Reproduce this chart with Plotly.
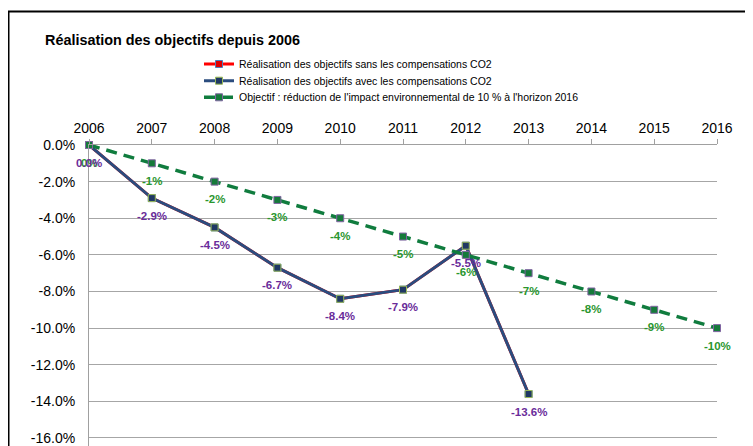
import plotly.graph_objects as go

years = [2006, 2007, 2008, 2009, 2010, 2011, 2012, 2013, 2014, 2015, 2016]
sans_comp = [0.0, -2.9, -4.5, -6.7, -8.4, -7.9, -5.5, -13.6]
avec_comp = [0.0, -2.9, -4.5, -6.7, -8.4, -7.9, -5.5, -13.6]
objectif = [0, -1, -2, -3, -4, -5, -6, -7, -8, -9, -10]
y_ticks = [0, -2, -4, -6, -8, -10, -12, -14, -16]
y_tick_labels = ["0.0%", "-2.0%", "-4.0%", "-6.0%", "-8.0%", "-10.0%", "-12.0%", "-14.0%", "-16.0%"]

names = [
    "Réalisation des objectifs sans les compensations CO2",
    "Réalisation des objectifs avec les compensations CO2",
    "Objectif : réduction de l'impact environnemental de 10 % à l'horizon 2016",
]

FONT = "Liberation Sans, Arial, sans-serif"
W, H = 753, 446
ML, MR, MT, MB = 81, 44, 137, 0
PH = H - MT - MB


def py(fig_y):
    return (H - MB - fig_y) / PH


fig = go.Figure()

fig.add_trace(go.Scatter(
    x=years[:len(sans_comp)], y=sans_comp, name=names[0], mode="lines+markers", legend="legend",
    line=dict(color="#FF0000", width=3),
    marker=dict(symbol="square", size=7, color="#E00000", line=dict(color="#4F81BD", width=1)),
    cliponaxis=False, hoverinfo="skip"))
fig.add_trace(go.Scatter(
    x=years[:len(avec_comp)], y=avec_comp, name=names[1], mode="lines+markers", legend="legend2",
    line=dict(color="#2B4C7E", width=3),
    marker=dict(symbol="square", size=7, color="#1F3864", line=dict(color="#9BBB59", width=1)),
    cliponaxis=False, hoverinfo="skip"))
fig.add_trace(go.Scatter(
    x=years, y=objectif, name=names[2], mode="lines+markers", legend="legend3",
    line=dict(color="#107C3E", width=3.5, dash="11px,7px"),
    marker=dict(symbol="square", size=7, color="#157A3A", line=dict(color="#8064A2", width=1)),
    cliponaxis=False, hoverinfo="skip"))

annotations = []
for x, v in zip(years, objectif):
    annotations.append(dict(x=x, y=v, text=f"{v:.0f}%", showarrow=False, yshift=-17.5,
                            font=dict(family=FONT, size=11.5, color="#2A962E", weight="bold")))
for x, v in zip(years, avec_comp):
    annotations.append(dict(x=x, y=v, text=f"{v:.1f}%", showarrow=False, yshift=-17.5,
                            font=dict(family=FONT, size=11.5, color="#6A2C9A", weight="bold")))

leg_common = dict(xanchor="left", yanchor="middle", x=(191 - ML) / (W - ML - MR),
                  font=dict(family=FONT, size=10.5, color="black"), bgcolor="rgba(0,0,0,0)",
                  borderwidth=0, itemwidth=30)

fig.update_layout(
    width=W, height=H,
    margin=dict(l=ML, r=MR, t=MT, b=MB),
    paper_bgcolor="white", plot_bgcolor="white",
    font=dict(family=FONT, color="black"),
    title=dict(text="<b>Réalisation des objectifs depuis 2006</b>", font=dict(family=FONT, size=14.4, color="black"),
               x=37 / W, xanchor="left", xref="container", y=1 - 32 / H, yanchor="middle", yref="container"),
    showlegend=True,
    legend=dict(y=py(56), **leg_common),
    legend2=dict(y=py(72.7), **leg_common),
    legend3=dict(y=py(89.3), **leg_common),
    xaxis=dict(range=[2006, 2016], side="top", tickvals=years, ticktext=[str(y) for y in years],
               showline=True, linecolor="#A0A0A0", linewidth=1, ticks="outside", ticklen=5,
               tickcolor="#A0A0A0", showgrid=False, zeroline=False,
               tickfont=dict(family=FONT, size=14, color="black")),
    yaxis=dict(range=[-16.875, 0], tickvals=y_ticks, ticktext=y_tick_labels,
               showline=True, linecolor="#A0A0A0", linewidth=1, showgrid=True, gridcolor="#A6A6A6",
               gridwidth=1, zeroline=False, ticks="", ticklabelstandoff=10,
               tickfont=dict(family=FONT, size=14, color="black")),
    annotations=annotations,
    shapes=[dict(type="rect", xref="paper", yref="paper", x0=(0.5 - ML) / (W - ML - MR), x1=1.2,
                 y0=-0.2, y1=py(3.5), line=dict(color="black", width=2))],
)

fig.write_html("out.html")
